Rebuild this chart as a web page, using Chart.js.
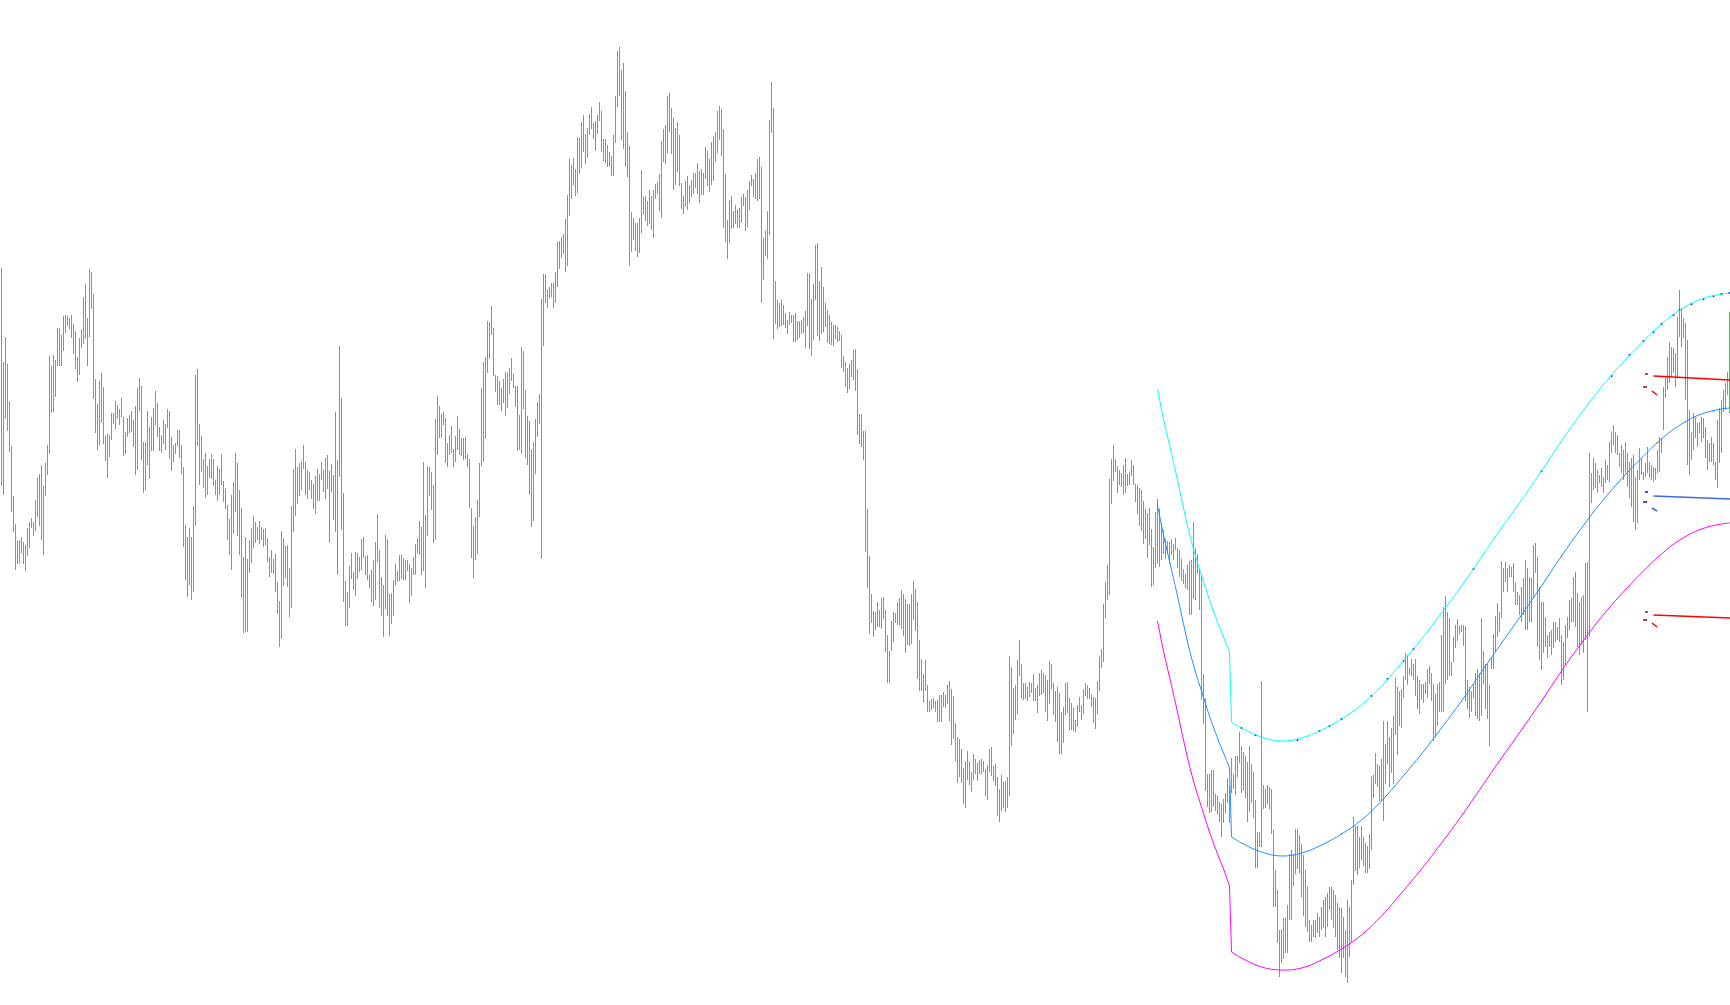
<!DOCTYPE html>
<html>
<head>
<meta charset="utf-8">
<script src="https://cdn.jsdelivr.net/npm/chart.js@4.4.1/dist/chart.umd.min.js"></script>
<style>
html, body { margin: 0; padding: 0; background: #ffffff; overflow: hidden; }
#wrap { width: 1730px; height: 1005px; }
</style>
</head>
<body>
<div id="wrap"><canvas id="chart"></canvas></div>
<script>
// price bars, one per bar index (highs / lows in points)
var highs = [
  732,638,663,636,599,554,504,476,459,460, 463,458,455,472,478,482,478,500,522,526,
  535,514,537,555,644,634,645,640,672,672, 665,684,685,684,682,685,676,669,643,662,
  671,703,716,682,731,728,706,621,596,619, 627,613,564,566,565,587,587,599,595,591,
  602,583,568,582,585,589,580,594,612,622, 614,558,558,589,573,583,592,609,597,573,
  565,580,576,591,589,563,555,557,570,570, 555,533,475,463,472,463,494,625,631,576,
  564,541,547,534,541,546,541,520,534,531, 546,519,512,495,481,505,518,547,537,510,
  492,443,463,441,460,472,484,478,473,479, 473,471,472,462,443,450,441,446,418,399,
  469,462,454,455,432,494,531,551,533,537, 539,555,538,530,528,520,516,524,531,526,
  538,530,542,545,529,536,525,588,540,654, 602,507,419,408,434,447,428,448,447,443,
  461,463,444,445,425,430,440,458,486,450, 423,415,465,461,406,407,420,436,429,445,
  445,442,440,440,436,432,443,456,462,479, 473,538,485,534,533,528,515,581,604,594,
  586,588,582,557,565,574,551,564,584,571, 562,562,563,546,541,492,474,483,500,537,
  612,638,643,679,678,694,672,625,624,619, 612,621,628,627,632,642,626,614,614,585,
  653,649,610,584,579,551,558,581,598,606, 701,726,726,711,713,717,717,728,758,759,
  763,766,781,805,841,835,842,831,863,862, 878,885,866,872,886,893,877,879,885,898,
  889,861,861,855,848,844,865,904,949,953, 930,937,909,868,854,788,782,777,777,782,
  830,803,804,799,810,804,810,816,818,826, 859,871,875,904,907,892,882,872,878,865,
  817,804,819,824,815,820,827,827,837,829, 831,827,853,849,841,858,864,868,889,894,
  891,871,826,780,800,804,789,795,791,792, 803,806,803,810,819,825,821,827,841,843,
  833,762,769,789,880,918,892,719,700,697, 700,695,687,680,688,685,685,687,679,679,
  680,683,689,727,727,701,716,755,757,719, 733,713,697,690,685,678,675,675,673,669,
  665,644,638,632,636,640,650,651,631,586, 586,569,569,491,444,406,389,388,398,390,
  402,403,390,365,349,379,388,387,398,402, 410,406,401,396,396,406,419,411,398,360,
  341,326,340,315,299,301,302,299,300,305, 305,308,305,315,319,311,304,277,263,261,
  251,232,239,249,239,228,246,241,237,240, 241,239,231,235,251,253,234,236,223,211,
  225,218,219,223,344,333,312,315,340,360, 336,317,317,313,318,317,326,312,315,327,
  330,327,325,320,339,336,317,309,313,307, 288,293,317,318,302,297,292,280,295,303,
  295,311,317,315,312,305,303,302,319,344, 351,396,418,435,521,541,555,541,534,530,
  527,535,542,526,528,540,535,516,515,512, 510,499,491,487,492,471,453,488,501,491,
  477,470,461,459,458,461,456,462,452,450, 441,431,426,435,439,440,478,452,446,432,
  426,326,302,226,226,230,230,206,204,198, 196,201,207,222,214,242,226,244,244,268,
  254,248,244,238,254,236,228,200,168,168, 319,215,211,215,213,211,170,130,110,70,
  71,82,82,95,146,150,146,171,171,165, 156,145,130,113,80,75,80,80,87,83,
  93,100,103,107,113,113,110,105,97,93, 92,83,70,100,93,120,183,174,174,163,
  174,163,157,154,166,224,225,247,236,234, 241,279,256,279,263,272,284,322,313,309,
  311,324,347,345,332,341,336,341,324,320, 316,316,318,331,334,327,316,306,316,318,
  365,393,404,388,382,338,363,375,381,374, 375,375,374,320,313,309,316,327,331,327,
  382,349,336,336,315,343,366,384,397,388, 439,432,438,432,435,433,437,417,408,405,
  413,422,440,432,423,422,455,457,443,413, 398,398,383,365,368,370,378,378,373,382,
  365,358,375,383,400,402,423,428,407,398, 403,405,437,438,547,527,542,537,530,525,
  532,523,540,535,558,568,575,568,565,547, 555,550,558,547,538,542,545,523,530,552,
  542,528,537,553,538,535,533,532,550,563, 562,613,622,643,658,653,652,647,683,710,
  692,682,677,660,590,568,587,583,577,578, 583,582,573,560,557,563,557,538,580,592,
  600,610,617,628,688
];
var lows = [
  514,505,581,569,548,488,468,430,436,437, 447,436,429,444,452,472,464,469,483,474,
  460,445,504,525,546,587,588,603,634,634, 634,649,667,674,671,662,646,631,618,625,
  652,656,661,634,663,691,601,567,550,555, 577,556,539,522,543,560,576,571,581,575,
  583,544,546,563,567,568,553,525,530,589, 540,507,510,535,521,549,549,575,563,549,
  547,556,550,572,541,529,538,546,554,542, 526,453,420,403,415,400,408,474,554,515,
  528,512,502,505,522,521,514,505,499,505, 515,498,491,460,445,430,466,488,464,445,
  402,367,368,368,427,437,452,457,460,456, 460,453,455,438,423,427,426,408,386,353,
  361,414,422,413,383,392,468,484,496,504, 510,531,505,501,510,501,491,486,499,499,
  520,508,501,511,457,508,480,468,425,523, 470,398,374,374,392,421,410,404,421,428,
  430,442,425,420,412,398,394,400,438,392, 384,363,391,384,364,376,384,415,418,419,
  421,420,420,429,397,404,425,425,446,445, 425,429,412,464,504,490,457,460,545,562,
  562,575,537,533,545,547,533,538,550,545, 544,540,541,533,492,442,422,440,446,483,
  534,538,561,627,641,665,624,608,595,595, 589,597,584,592,606,619,612,593,549,550,
  546,591,542,535,505,473,479,526,563,576, 441,654,697,692,702,703,692,697,713,731,
  742,746,728,734,784,801,815,804,807,826, 832,848,836,842,865,871,861,849,866,879,
  848,839,837,833,833,824,824,857,893,904, 860,851,833,823,734,748,760,749,743,747,
  767,785,779,774,776,770,762,801,806,789, 782,838,836,847,868,846,810,815,828,814,
  791,786,793,790,797,803,806,812,806,797, 805,805,821,814,808,815,819,838,847,860,
  844,772,758,741,757,771,772,776,772,772, 777,794,769,773,790,814,803,801,799,801,
  697,720,744,741,765,867,661,676,671,673, 674,675,672,666,675,677,658,658,660,662,
  666,667,652,674,651,644,660,700,664,659, 666,668,673,657,656,655,654,661,658,659,
  632,628,613,607,611,623,620,609,565,556, 553,540,448,412,366,377,363,370,373,373,
  371,381,348,317,317,349,358,377,375,375, 371,364,347,355,354,356,380,369,321,309,
  309,297,309,288,288,290,292,288,278,278, 278,293,292,296,279,255,261,239,217,223,
  217,196,192,220,215,208,220,226,219,226, 226,228,204,200,228,224,219,214,184,178,
  189,192,188,192,204,254,266,280,286,324, 301,300,301,299,303,307,299,299,287,304,
  305,307,288,279,296,311,285,278,258,246, 246,257,285,287,270,270,269,268,273,288,
  280,286,304,301,301,293,277,271,286,309, 332,338,382,400,405,496,519,528,507,515,
  513,505,507,514,515,524,515,498,486,474, 469,456,461,442,455,413,415,432,436,433,
  440,446,441,446,436,445,440,450,432,423, 419,416,412,410,385,385,401,400,426,390,
  300,276,209,193,187,188,193,189,185,178, 163,177,187,197,177,207,211,205,223,237,
  207,209,202,178,188,197,182,132,132,153, 153,191,192,196,191,166,93,93,57,23,
  37,41,47,47,80,80,114,126,131,127, 103,84,73,68,58,58,63,62,67,63,
  70,72,63,73,90,80,72,63,50,42, 27,42,23,17,43,57,115,129,125,132,
  140,134,127,127,131,150,202,216,213,199, 199,179,216,236,213,227,216,265,245,274,
  272,302,320,315,325,324,320,304,291,286, 300,297,306,302,316,299,259,263,274,288,
  288,288,316,320,324,324,338,352,359,366, 368,354,299,291,282,288,302,284,281,279,
  284,316,291,281,254,331,331,349,363,368, 382,408,418,408,423,423,408,395,395,385,
  378,385,370,370,378,378,402,427,353,340, 330,347,353,342,353,345,352,358,360,358,
  315,320,335,362,370,378,378,373,353,345, 355,347,360,288,363,497,510,512,507,517,
  513,507,517,520,518,547,555,547,545,533, 527,520,527,513,502,493,478,470,477,520,
  525,520,523,527,522,520,518,520,527,528, 547,570,602,610,617,623,627,613,623,663,
  653,662,600,535,525,540,550,562,553,567, 558,562,542,530,538,538,535,520,512,537,
  547,588,590,605,587
];

// regression channel: older part, then the current part (bar index -> level)
var oldBars = [578,581,584,588,591,594,597,600,604,608,611,614];
var oldUpper = [611,581,555,520,492,466,444,425,400,378,363,348];
var oldMid = [495,465,439,404,376,350,328,309,284,262,247,232];
var oldLower = [379,349,323,288,260,234,212,193,168,146,131,114];

var chanBars = [615,620,630,640,650,660,670,680,690,700,710,720,730,740,750,760,770,780,790,800,810,820,830,840,850,860,864];
var chanUpper = [278,272,263,259,262,270,281,295,314,337,361,387,414,443,472,500,529,559,587,613,636,657,676,691,701,706,707];
var chanMid = [163,157,148,144,147,155,166,180,199,222,246,272,299,328,357,385,414,444,472,498,521,542,561,576,586,591,592];
var chanLower = [48,42,33,30,32,40,51,65,84,107,131,157,184,213,242,270,299,329,357,383,406,427,446,461,471,476,477];

// dots drawn on the upper and middle lines
var upperDotBars = [620,627,648,659,664,670,685,693,701,706,736,770,805,814,821,826,830,836,839,845,851,856,860,864];
var upperDots = [272,265,260,269,274,281,304,321,339,351,431,529,624,645,659,668,676,685,690,696,701,704,706,707];
var midDotBars = [670,780,828,842,847,856,861];
var midDots = [166,444,557,578,582,589,591];

// horizontal levels on the right
var levelBars = [826, 864.25];
var levelTop = [624, 620];
var levelMidY = [504, 501];
var levelBottom = [385, 382];

// small marks beside the levels
var markA = [821.8, 823.2];
var markB = [820.8, 822.8];
var markC = [825.2, 827.8];
var topMarks = [[626, 626], [613, 613], [609, 605]];
var midMarks = [[508, 508], [498, 498], [492, 489]];
var bottomMarks = [[388, 388], [380, 380], [377, 373]];

function pts(xs, ys) {
  return xs.map(function (x, i) { return { x: x, y: ys[i] }; });
}

function lineSet(data, color, width, smooth) {
  return {
    type: 'line',
    data: data,
    borderColor: color,
    borderWidth: width,
    pointRadius: 0,
    fill: false,
    tension: smooth ? 0.4 : 0,
    order: 0
  };
}

function dotSet(data, color) {
  return {
    type: 'line',
    data: data,
    showLine: false,
    pointRadius: 1,
    pointBorderWidth: 0,
    pointBackgroundColor: color,
    order: 0
  };
}

var barData = highs.map(function (h, i) { return { x: i, y: [lows[i], h] }; });

var datasets = [
  {
    type: 'bar',
    data: barData,
    backgroundColor: '#22dd22',
    borderWidth: 0,
    barThickness: 1,
    inflateAmount: 0,
    order: 1
  }
];

[[oldUpper, chanUpper, '#00ffff'], [oldMid, chanMid, '#1e90ff'], [oldLower, chanLower, '#ff00ff']].forEach(function (c) {
  datasets.push(lineSet(pts(oldBars, c[0]), c[2], 1, true));
  datasets.push(lineSet(pts(chanBars, c[1]), c[2], 1, true));
  datasets.push(lineSet([{ x: oldBars[oldBars.length - 1], y: c[0][c[0].length - 1] }, { x: chanBars[0], y: c[1][0] }], c[2], 1, false));
});

datasets.push(dotSet(pts(upperDotBars, upperDots), '#0000cd'));
datasets.push(dotSet(pts(midDotBars, midDots), '#ffa500'));

datasets.push(lineSet(pts(levelBars, levelTop), '#ff0000', 1.5, false));
datasets.push(lineSet(pts(levelBars, levelMidY), '#4169e1', 1.5, false));
datasets.push(lineSet(pts(levelBars, levelBottom), '#ff0000', 1.5, false));

[[topMarks, '#8b0000', '#ff0000'], [midMarks, '#0000c8', '#4169e1'], [bottomMarks, '#8b0000', '#ff0000']].forEach(function (g) {
  datasets.push(lineSet(pts(markA, g[0][0]), g[1], 1.5, false));
  datasets.push(lineSet(pts(markB, g[0][1]), g[1], 1.5, false));
  datasets.push(lineSet(pts(markC, g[0][2]), g[2], 1.5, false));
});

new Chart(document.getElementById('chart'), {
  type: 'bar',
  data: { datasets: datasets },
  options: {
    responsive: true,
    maintainAspectRatio: false,
    devicePixelRatio: 1,
    animation: false,
    events: [],
    layout: { padding: 0, autoPadding: false },
    plugins: { legend: { display: false }, tooltip: { enabled: false } },
    scales: {
      x: { type: 'linear', min: -0.75, max: 864.25, offset: false, display: false },
      y: { type: 'linear', min: -5, max: 1000, display: false }
    }
  }
});
</script>
</body>
</html>
